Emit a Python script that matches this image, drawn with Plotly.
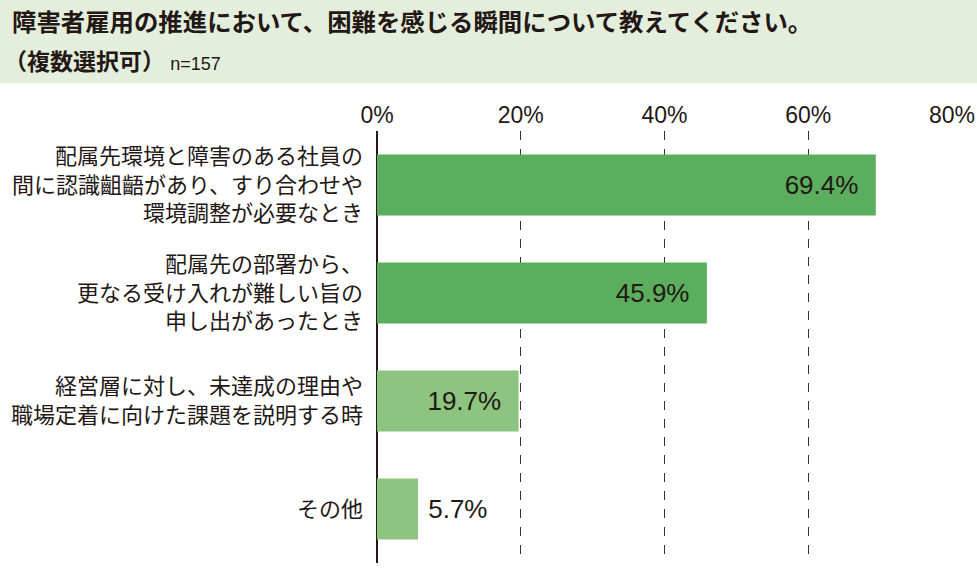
import plotly.graph_objects as go

categories = [
    "配属先環境と障害のある社員の<br>間に認識齟齬があり、すり合わせや<br>環境調整が必要なとき",
    "配属先の部署から、<br>更なる受け入れが難しい旨の<br>申し出があったとき",
    "経営層に対し、未達成の理由や<br>職場定着に向けた課題を説明する時",
    "その他",
]
values = [69.4, 45.9, 19.7, 5.7]
bar_colors = ["#5aae5d", "#5aae5d", "#8cc480", "#8cc480"]
text_positions = ["inside", "inside", "inside", "outside"]
tick_vals = [0, 20, 40, 60, 80]
tick_text = ["0%", "20%", "40%", "60%", "80%"]

title_main = "障害者雇用の推進において、困難を感じる瞬間について教えてください。"
title_sub = "（複数選択可）"
n_text = "n=157"

JP = "Noto Sans CJK JP"
NUM = "Liberation Sans"
NB = "\u00a0"

L, R, T, B = 377, 25, 131, 14
W, H = 977, 577
PW, PH = W - L - R, H - T - B

labels = [
    (f"{v:.1f}%" + NB * 2) if p == "inside" else (NB + f"{v:.1f}%")
    for v, p in zip(values, text_positions)
]

fig = go.Figure(
    go.Bar(
        y=categories,
        x=values,
        orientation="h",
        marker=dict(color=bar_colors, line=dict(width=0)),
        width=0.565,
        text=labels,
        textposition=text_positions,
        insidetextanchor="end",
        textangle=0,
        constraintext="none",
        cliponaxis=False,
        textfont=dict(family=NUM, size=26, color="#231815"),
        hoverinfo="skip",
    )
)

fig.update_layout(
    width=W,
    height=H,
    margin=dict(l=L, r=R, t=T, b=B, autoexpand=False),
    paper_bgcolor="white",
    plot_bgcolor="white",
    showlegend=False,
    font=dict(family=JP, color="#231815"),
    xaxis=dict(
        range=[0, 80],
        side="top",
        tickvals=tick_vals,
        ticktext=tick_text,
        tickfont=dict(family=NUM, size=23, color="#231815"),
        showgrid=True,
        gridcolor="#333333",
        gridwidth=1,
        griddash="dash",
        zeroline=True,
        zerolinecolor="#231815",
        zerolinewidth=2,
        showline=False,
        ticks="",
        ticklabelstandoff=2,
        automargin=False,
        fixedrange=True,
    ),
    yaxis=dict(
        categoryorder="array",
        categoryarray=categories[::-1],
        tickfont=dict(family=JP, size=22, color="#231815"),
        showgrid=False,
        zeroline=False,
        showline=False,
        ticks="",
        ticklabelstandoff=13,
        automargin=False,
        fixedrange=True,
    ),
    shapes=[
        dict(
            type="rect", xref="paper", yref="paper",
            x0=-L / PW, x1=1 + R / PW,
            y0=1 + (T - 83) / PH,
            y1=1 + T / PH,
            fillcolor="#e3efdc", line=dict(width=0), layer="below",
        )
    ],
    annotations=[
        dict(
            text=f"<b>{title_main}</b>",
            xref="paper", yref="paper",
            x=-(L - 10) / PW, y=1 + (T - 21) / PH,
            xanchor="left", yanchor="middle", showarrow=False,
            font=dict(family=JP, size=24.4, color="#231815"),
        ),
        dict(
            text=f"<b>{title_sub}</b> <span style='font-family:{NUM};font-size:18px'>{n_text}</span>",
            xref="paper", yref="paper",
            x=-(L - 2) / PW, y=1 + (T - 60) / PH,
            xanchor="left", yanchor="middle", showarrow=False,
            font=dict(family=JP, size=23, color="#231815"),
        ),
    ],
)

fig.write_html(
    "out.html",
    config={"displayModeBar": False},
    post_script="document.body.style.margin='0';document.documentElement.style.overflow='hidden';",
)
